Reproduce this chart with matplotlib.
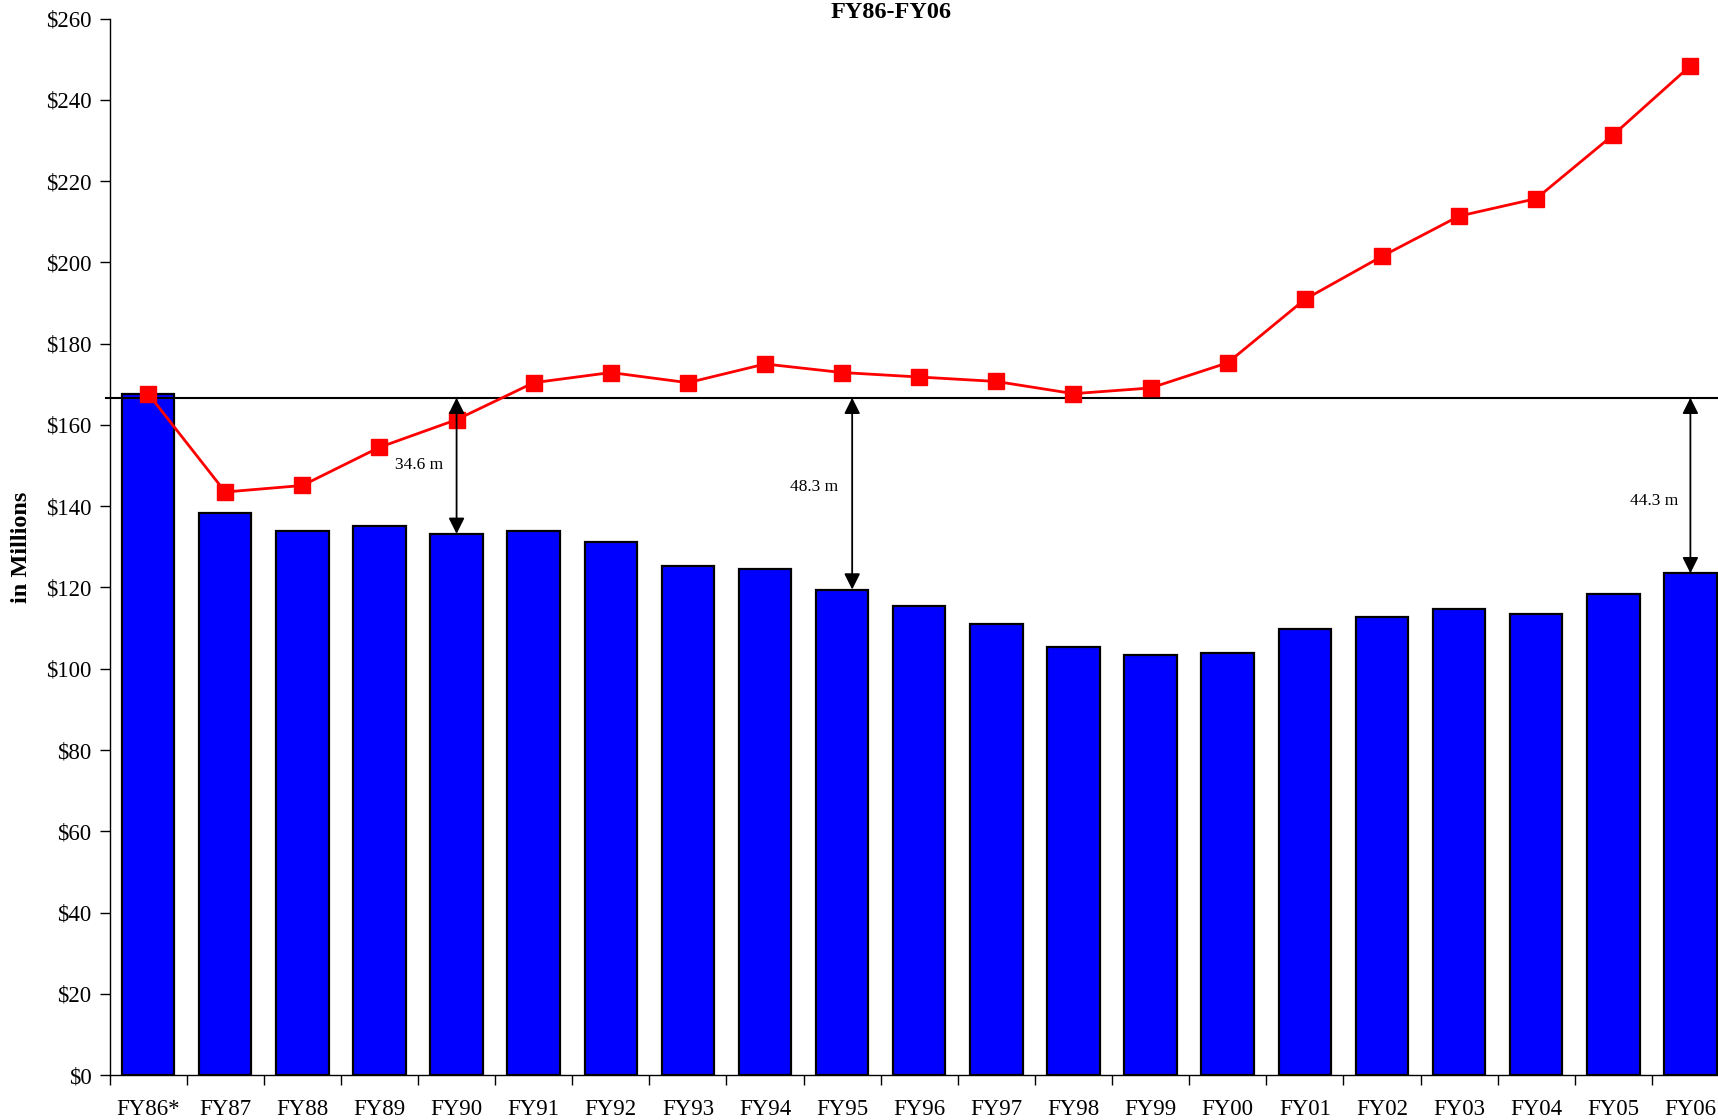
import matplotlib
matplotlib.use('Agg')
import matplotlib.pyplot as plt
import numpy as np

# ---------------------------------------------------------------------------
# Data ($ millions)
# ---------------------------------------------------------------------------
years = ['FY86*', 'FY87', 'FY88', 'FY89', 'FY90', 'FY91', 'FY92', 'FY93', 'FY94',
         'FY95', 'FY96', 'FY97', 'FY98', 'FY99', 'FY00', 'FY01', 'FY02', 'FY03',
         'FY04', 'FY05', 'FY06']
bar_values = [167.7, 138.3, 133.8, 135.1, 133.2, 133.8, 131.1, 125.4, 124.6,
              119.5, 115.4, 111.1, 105.4, 103.3, 103.8, 109.8, 112.7, 114.6,
              113.5, 118.4, 123.5]
line_values = [167.7, 143.5, 145.1, 154.5, 161.3, 170.4, 172.9, 170.4, 175.0,
               172.9, 171.8, 170.7, 167.7, 169.1, 175.3, 190.9, 201.5, 211.4,
               215.7, 231.4, 248.4]
baseline = 166.7

gap_years = [4, 9, 20]
gap_labels = ['34.6 m', '48.3 m', '44.3 m']

plt.rcParams['font.family'] = ['Liberation Serif', 'DejaVu Serif']

fig = plt.figure(figsize=(17.18, 11.2), dpi=100)
ax = fig.add_axes([100 / 1568, 1 - 981 / 1022, 1478 / 1568, 964 / 1022])

x = np.arange(len(years))
ax.bar(x, bar_values, width=0.68, color='#0000FF', edgecolor='black',
       linewidth=1.6, zorder=2)
ax.plot(x, line_values, color='#FF0000', linewidth=2, marker='s',
        markersize=11.5, markeredgecolor='#FF0000', zorder=4)

# reference level line
ax.plot([-0.55, 20.5], [baseline, baseline], color='black', linewidth=1.5,
        clip_on=False, zorder=3)

# gap arrows (hand-placed in the original, slightly off bar centres)
arrow_x = [4.0, 9.13, 20.0]
for ax_x, xi in zip(arrow_x, gap_years):
    ax.annotate('', xy=(ax_x, bar_values[xi]), xytext=(ax_x, baseline),
                arrowprops=dict(arrowstyle='<|-|>', color='black', lw=1.3,
                                mutation_scale=24, shrinkA=0, shrinkB=0),
                zorder=5)
label_pos = [(3.51, 150.2), (8.63, 144.8), (19.53, 141.4)]
for (lx, ly), lab in zip(label_pos, gap_labels):
    ax.text(lx, ly, lab, ha='center', va='center', fontsize=12.5)

ax.set_xlim(-0.5, 20.5)
ax.set_ylim(0, 260)
ax.set_yticks(np.arange(0, 261, 20))
ax.set_yticklabels([f'${v}' for v in range(0, 261, 20)], fontsize=16.5)
ax.set_xticks(x)
ax.set_xticklabels(years, fontsize=16.5)
ax.set_xticks(np.arange(-0.5, 20.6, 1), minor=True)
ax.tick_params(axis='x', which='major', length=0, pad=17)
ax.tick_params(axis='x', which='minor', length=7, width=1, direction='out')
ax.tick_params(axis='y', length=7, width=1, direction='out', pad=6)

for side in ['top', 'right']:
    ax.spines[side].set_visible(False)
ax.spines['left'].set_linewidth(1)
ax.spines['bottom'].set_linewidth(1)

fig.text(20 / 1568, 1 - 499 / 1022, 'in Millions', rotation=90, ha='center',
         va='center', fontsize=17.5, fontweight='bold')

fig.text(813 / 1568, 1 - 16 / 1022, 'FY86-FY06', ha='center', va='baseline',
         fontsize=17.5, fontweight='bold')

fig.savefig('out.png', dpi=100)
